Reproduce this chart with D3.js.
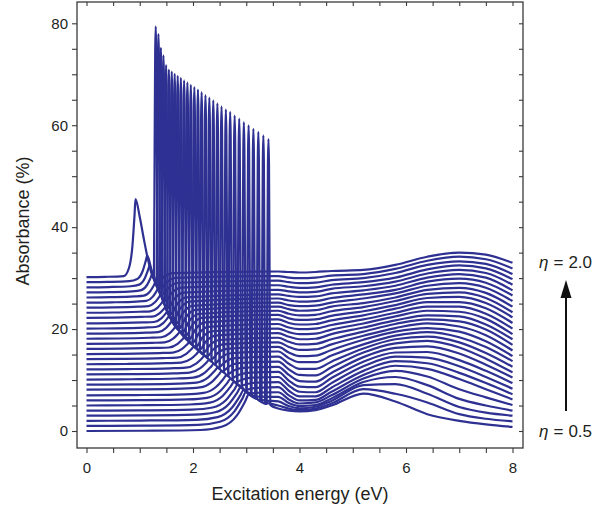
<!DOCTYPE html>
<html><head><meta charset="utf-8">
<script src="https://cdn.jsdelivr.net/npm/d3@7"></script>
<style>
html,body{margin:0;padding:0;background:#fff;}
svg text{font-family:"Liberation Sans",Arial,Helvetica,sans-serif;fill:#231f20;}
</style></head><body>
<svg id="chart" width="595" height="510"></svg>
<script>
// ---------- data (index k = 0 (eta 0.5) ... 30 (eta 2.0)) ----------
const etaValues = d3.range(31).map(k => +(0.5 + 0.05 * k).toFixed(2));
const xTickLabels = [0, 2, 4, 6, 8];
const yTickLabels = [0, 20, 40, 60, 80];
const etaLabels = ["0.5", "2.0"];

// value of each curve at 0 eV
const baseline = [0,1.0,2.0,3.0,4.0,5.0,6.0,7.0,8.1,9.1,10.1,11.1,12.1,13.1,14.1,15.1,16.1,17.1,18.1,19.1,20.1,21.1,22.2,23.2,24.2,25.2,26.2,27.2,28.2,29.2,30.2];
// energy where each curve starts to rise
const onsetE = [2.14,2.10,2.06,2.02,1.98,1.94,1.90,1.85,1.79,1.74,1.69,1.63,1.57,1.50,1.43,1.37,1.30,1.23,1.18,1.13,1.09,1.06,1.03,1.00,0.97,0.94,0.90,0.86,0.83,0.80,0.70];
// energy where the rising arc joins the common descending envelope
const meetE = [3.054,2.999,2.954,2.898,2.841,2.775,2.709,2.632,2.544,2.468,2.393,2.307,2.221,2.122,2.022,1.938,1.848,1.759,1.684,1.611,1.557,1.520,1.483,1.442,1.397,1.348,1.297,1.235,1.186,1.140,0.920];
// sharp resonance: position and peak value
const spikeE = [3.417,3.321,3.227,3.134,3.044,2.955,2.868,2.782,2.698,2.617,2.536,2.458,2.381,2.307,2.234,2.162,2.093,2.025,1.959,1.895,1.833,1.772,1.713,1.656,1.601,1.547,1.495,1.445,1.397,1.351,1.300];
const spikeTop = [57.3,58.0,58.7,59.3,60.0,60.6,61.3,61.9,62.6,63.1,63.7,64.3,64.9,65.4,65.9,66.5,67.0,67.5,67.9,68.4,68.8,69.3,69.7,70.1,70.5,70.9,71.8,73.7,75.2,77.9,79.4];
// common descending envelope (thick line from the 0.9 eV peak to the 4 eV trough)
const envE = [0.92,1.0,1.08,1.16,1.25,1.39,1.48,1.575,1.75,2.0,2.2,2.5,2.83,3.01,3.2,3.4,3.6,3.8,4.0];
const envV = [45.5,42,37.5,33.4,30.3,27.0,24.4,22.2,19.6,16.8,15.0,12.2,9.2,7.6,6.3,5.2,4.4,4.05,4.0];
// values of each curve at fixed energies on the right side
const rightE = [3.6,3.8,4.0,4.3,4.6,5.2,5.8,6.4,7.0,7.5,8.0];
const v36 = [4.4,5.0,5.8,6.7,7.6,8.6,9.6,10.6,11.6,12.6,13.6,14.6,15.6,16.5,17.4,18.3,19.2,20.1,21.0,21.9,22.8,23.6,24.4,25.2,26.0,26.8,27.7,28.6,29.5,30.4,31.3];
const v38 = [4.0,4.4,4.9,5.5,6.2,7.0,7.9,8.9,9.9,11.0,12.1,13.2,14.3,15.4,16.5,17.5,18.5,19.4,20.3,21.2,22.1,23.0,23.9,24.7,25.6,26.5,27.4,28.3,29.2,30.1,31.2];
const v40 = [3.85,4.1,4.45,4.9,5.4,6.0,6.8,7.7,8.7,9.8,11.0,12.2,13.5,14.7,15.9,17.0,18.0,19.0,20.0,20.9,21.8,22.7,23.6,24.5,25.4,26.3,27.2,28.1,29.0,30.0,31.1];
const v43 = [4.1,4.4,4.75,5.1,5.6,6.1,6.8,7.6,8.6,9.7,10.9,12.2,13.5,14.8,16.0,17.1,18.1,19.1,20.1,21.0,21.9,22.8,23.7,24.6,25.5,26.4,27.3,28.2,29.1,30.1,31.2];
const v46 = [5.0,5.4,5.9,6.4,7.0,7.7,8.5,9.4,10.4,11.4,12.5,13.6,14.8,15.9,17.0,18.0,19.0,19.9,20.8,21.7,22.6,23.5,24.4,25.2,26.1,27.0,27.9,28.7,29.6,30.5,31.4];
const v52 = [7.35,8.2,9.0,9.6,10.3,11.0,11.8,12.7,13.6,14.5,15.4,16.2,17.0,17.9,18.7,19.5,20.3,21.1,21.9,22.7,23.5,24.3,25.1,26.0,26.8,27.6,28.4,29.2,30.0,30.8,31.6];
const v58 = [5.8,7.3,9.2,10.6,11.8,12.8,13.7,14.6,15.4,16.3,17.2,18.0,18.7,19.5,20.2,21.0,21.7,22.5,23.2,24.0,24.7,25.5,26.2,27.0,27.7,28.5,29.3,30.1,31.0,31.8,32.6];
const v64 = [3.3,5.6,7.3,9.0,10.7,12.2,13.3,14.4,15.5,16.6,17.7,18.5,19.4,20.2,21.1,21.9,22.7,23.6,24.4,25.3,26.1,26.9,27.7,28.5,29.3,30.1,30.9,31.7,32.6,33.4,34.2];
const v70 = [2.0,3.3,4.7,6.3,8.2,10.2,11.4,12.7,13.9,15.2,16.4,17.4,18.4,19.5,20.5,21.5,22.5,23.4,24.4,25.3,26.3,27.2,28.1,29.0,29.9,30.8,31.6,32.5,33.3,34.2,35.0];
const v75 = [1.3,2.4,3.6,5.0,6.6,8.2,9.4,10.6,11.8,13.0,14.2,15.3,16.5,17.6,18.8,19.9,20.9,22.0,23.0,24.1,25.1,26.1,27.1,28.1,29.1,30.1,31.0,31.9,32.8,33.7,34.6];
const v80 = [0.8,1.9,3.0,4.0,5.1,6.2,7.2,8.3,9.4,10.5,11.5,12.6,13.7,14.7,15.8,16.9,18.0,19.0,20.1,21.2,22.3,23.3,24.4,25.5,26.6,27.6,28.7,29.8,30.8,31.9,33.0];
const rightV = [v36,v38,v40,v43,v46,v52,v58,v64,v70,v75,v80];
// shapes (fraction of width, fraction of rise)
const arcShape = [[0.45,0.12],[0.75,0.42],[0.92,0.8]];
const spikeLeft = [[-0.034,0.0],[-0.021,0.5],[-0.01,0.9]];
const spikeRight = [[0.01,0.9],[0.021,0.5],[0.034,0.0]];

// ---------- layout ----------
const svg = d3.select("#chart");
const frame = {left:77, right:523, top:2, bottom:448};
const x = d3.scaleLinear().domain([0,8]).range([86.5,512.5]);
const y = d3.scaleLinear().domain([0,80]).range([431,23.3]);
const env = d3.scaleLinear().domain(envE).range(envV).clamp(true);
const lineColor = "#2e3192";
const axisColor = "#3a3a3a";

function curvePoints(k){
  const pts = [];
  const b = baseline[k], on = onsetE[k], m = meetE[k], tm = env(m);
  pts.push([0, b]);
  pts.push([on*0.5, b+0.05]);
  pts.push([on, b+0.2]);
  arcShape.forEach(([f,g]) => pts.push([on + f*(m-on), b + g*(tm-b)]));
  pts.push([m, tm]);
  const S = spikeE[k], Hk = spikeTop[k], P = env(S);
  envE.forEach((e,i) => { if (e > m+0.02 && e < S-0.06) pts.push([e, envV[i]]); });
  spikeLeft.forEach(([dx,f]) => { const bg = env(S+dx); pts.push([S+dx, bg + f*(Hk-bg)]); });
  pts.push([S, Hk]);
  spikeRight.forEach(([dx,f]) => pts.push([S+dx, P + f*(Hk-P)]));
  const R = v36[k];
  if (S+0.15 < 3.5) pts.push([S+0.15, P + 0.5*(R-P)]);
  if (S+0.33 < 3.5) pts.push([S+0.33, P + 0.85*(R-P)]);
  rightE.forEach((e,i) => { if (e > pts[pts.length-1][0] + 0.02) pts.push([e, rightV[i][k]]); });
  return pts;
}

svg.append("clipPath").attr("id","clip").append("rect")
  .attr("x",frame.left).attr("y",frame.top)
  .attr("width",frame.right-frame.left).attr("height",frame.bottom-frame.top);

const line = d3.line().x(d => x(d[0])).y(d => y(d[1])).curve(d3.curveMonotoneX);
const g = svg.append("g").attr("clip-path","url(#clip)");
g.selectAll("path.c").data(etaValues.map((e,k)=>curvePoints(k))).enter()
  .append("path").attr("class","c")
  .attr("d", line).attr("fill","none")
  .attr("stroke", lineColor).attr("stroke-width",2.2).attr("stroke-linejoin","round");

// ---------- axes ----------
const xTickVals = d3.range(0, 8.001, 0.5);
const yTickVals = d3.range(0, 81, 5);
const fmtX = d => xTickLabels.includes(d) ? String(d) : "";
const fmtY = d => yTickLabels.includes(d) ? String(d) : "";

function styleAxis(sel){
  sel.select(".domain").remove();
  sel.selectAll("line").attr("stroke",axisColor).attr("stroke-width",1.1);
  sel.selectAll("text").attr("font-size","15px").attr("fill","#231f20")
     .attr("font-family",'"Liberation Sans",Arial,Helvetica,sans-serif');
}
svg.append("g").attr("transform",`translate(0,${frame.bottom})`)
  .call(d3.axisBottom(x).tickValues(xTickVals).tickSize(5).tickPadding(9).tickFormat(fmtX)).call(styleAxis);
svg.append("g").attr("transform",`translate(0,${frame.top})`)
  .call(d3.axisTop(x).tickValues(xTickVals).tickSize(-4).tickFormat("")).call(styleAxis);
svg.append("g").attr("transform",`translate(${frame.left},0)`)
  .call(d3.axisLeft(y).tickValues(yTickVals).tickSize(5).tickPadding(4).tickFormat(fmtY)).call(styleAxis);
svg.append("g").attr("transform",`translate(${frame.right},0)`)
  .call(d3.axisRight(y).tickValues(yTickVals).tickSize(-4).tickFormat("")).call(styleAxis);

svg.append("rect").attr("x",frame.left).attr("y",frame.top)
  .attr("width",frame.right-frame.left).attr("height",frame.bottom-frame.top)
  .attr("fill","none").attr("stroke",axisColor).attr("stroke-width",1.3);

// axis titles
svg.append("text").attr("x",(frame.left+frame.right)/2).attr("y",500)
  .attr("text-anchor","middle").attr("font-size","18px").text("Excitation energy (eV)");
svg.append("text").attr("transform",`translate(29,${(frame.top+frame.bottom)/2 - 4}) rotate(-90)`)
  .attr("text-anchor","middle").attr("font-size","18px").text("Absorbance (%)");

// eta annotation
function etaLabel(val, yb){
  const t = svg.append("text").attr("x",539).attr("y",yb).attr("font-size","17px");
  t.append("tspan").attr("font-style","italic").text("η");
  t.append("tspan").attr("dx",5).text("=");
  t.append("tspan").attr("dx",5).text(val);
}
etaLabel(etaLabels[1], 268);
etaLabel(etaLabels[0], 437);
svg.append("line").attr("x1",566).attr("x2",566).attr("y1",411).attr("y2",295)
  .attr("stroke","#111").attr("stroke-width",2);
svg.append("path").attr("d","M560.5,298 L566,280 L571.5,298 Z").attr("fill","#111");
</script>
</body></html>
